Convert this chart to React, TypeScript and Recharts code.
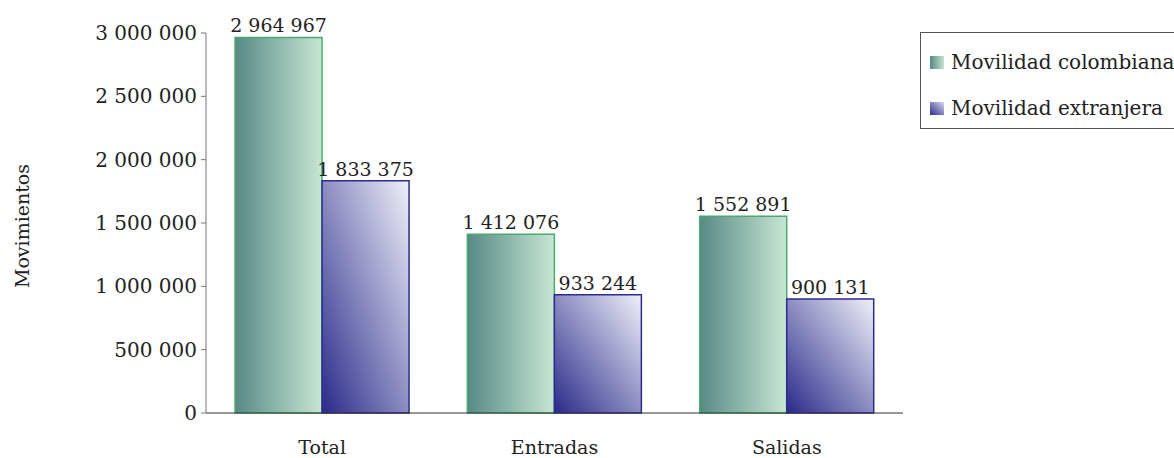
import React from "react";
import { BarChart, Bar, XAxis, YAxis, LabelList } from "recharts";

const categories = ["Total", "Entradas", "Salidas"];
const colombiana = [2964967, 1412076, 1552891];
const extranjera = [1833375, 933244, 900131];
const yTicks = [0, 500000, 1000000, 1500000, 2000000, 2500000, 3000000];
const seriesNames = ["Movilidad colombiana", "Movilidad extranjera"];

const data = categories.map((c, i) => ({ name: c, col: colombiana[i], ext: extranjera[i] }));

const fmt = (v: number) => String(v).replace(/\B(?=(\d{3})+(?!\d))/g, "\u00A0");
const FONT = "'DejaVu Serif', serif";

const LegendBox = () => (
  <div
    style={{
      position: "absolute",
      left: 920,
      top: 32,
      border: "1px solid #555",
      width: 270,
      height: 97,
      boxSizing: "border-box",
      fontFamily: FONT,
      fontSize: 20,
      color: "#222",
      background: "#fff",
    }}
  >
    {seriesNames.map((n, i) => (
      <div key={n} style={{ display: "flex", alignItems: "center", height: 24, marginTop: i === 0 ? 17 : 22, paddingLeft: 9 }}>
        <span
          style={{
            display: "inline-block",
            width: 14,
            height: 13,
            marginRight: 7,
            background:
              i === 0
                ? "linear-gradient(to right, #578a84, #c6e4d2)"
                : "linear-gradient(to top right, #2c2c8c, #d8d8f0)",
          }}
        />
        <span style={{ whiteSpace: "nowrap" }}>{n}</span>
      </div>
    ))}
  </div>
);

export default function App() {
  return (
    <div style={{ position: "absolute", left: 0, top: 0, width: 1174, height: 458, background: "#fff", overflow: "hidden" }}>
      <BarChart
        width={1174}
        height={458}
        data={data}
        margin={{ top: 33, right: 271, bottom: 15, left: 146 }}
        barCategoryGap="12.5%"
        barGap={0}
      >
        <defs>
          <linearGradient id="gCol" x1="0" y1="0" x2="1" y2="0">
            <stop offset="0%" stopColor="#578a84" />
            <stop offset="100%" stopColor="#c8e6d4" />
          </linearGradient>
          <linearGradient id="gExt" x1="0" y1="1" x2="1" y2="0">
            <stop offset="0%" stopColor="#2a2a8a" />
            <stop offset="100%" stopColor="#f0f0fa" />
          </linearGradient>
        </defs>
        <XAxis
          dataKey="name"
          height={30}
          tickLine={false}
          axisLine={{ stroke: "#333" }}
          tick={{ fontFamily: FONT, fontSize: 19, fill: "#222" }}
          tickMargin={22}
        />
        <YAxis
          width={60}
          domain={[0, 3000000]}
          ticks={yTicks}
          tickFormatter={fmt}
          tickSize={5}
          tickMargin={4}
          axisLine={{ stroke: "#777" }}
          tickLine={{ stroke: "#777" }}
          tick={{ fontFamily: FONT, fontSize: 20, fill: "#222" }}
          label={{
            content: () => (
              <text
                x={22}
                y={226}
                transform="rotate(-90 22 226)"
                textAnchor="middle"
                dominantBaseline="central"
                fontFamily={FONT}
                fontSize={19}
                fill="#222"
              >
                Movimientos
              </text>
            ),
          }}
        />
        <Bar dataKey="col" name={seriesNames[0]} fill="url(#gCol)" stroke="#4aa870" strokeWidth={1.5} isAnimationActive={false}>
          <LabelList dataKey="col" position="top" offset={5} formatter={(v: number) => fmt(v)} style={{ fontFamily: FONT, fontSize: 19, fill: "#222" }} />
        </Bar>
        <Bar dataKey="ext" name={seriesNames[1]} fill="url(#gExt)" stroke="#2b2b90" strokeWidth={1.5} isAnimationActive={false}>
          <LabelList dataKey="ext" position="top" offset={5} formatter={(v: number) => fmt(v)} style={{ fontFamily: FONT, fontSize: 19, fill: "#222" }} />
        </Bar>
      </BarChart>
      <LegendBox />
    </div>
  );
}
